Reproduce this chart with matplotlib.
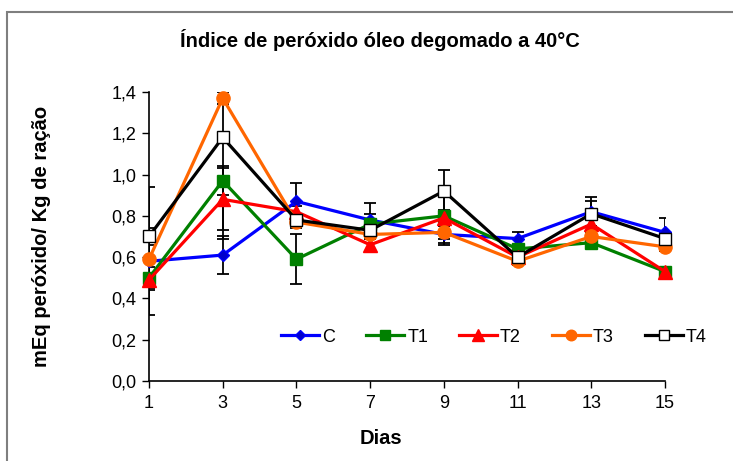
import numpy as np
import matplotlib
matplotlib.use('Agg')
import matplotlib.pyplot as plt
from matplotlib.patches import Rectangle

plt.rcParams['font.family'] = ['Liberation Sans', 'DejaVu Sans']

dias = [1, 3, 5, 7, 9, 11, 13, 15]
y_ticks = [0.0, 0.2, 0.4, 0.6, 0.8, 1.0, 1.2, 1.4]
y_labels = ['0,0', '0,2', '0,4', '0,6', '0,8', '1,0', '1,2', '1,4']

c_vals  = [0.58, 0.61, 0.87, 0.78, 0.71, 0.69, 0.82, 0.72]
t1_vals = [0.50, 0.97, 0.59, 0.76, 0.80, 0.64, 0.67, 0.53]
t2_vals = [0.49, 0.88, 0.82, 0.66, 0.79, 0.60, 0.76, 0.53]
t3_vals = [0.59, 1.37, 0.77, 0.71, 0.72, 0.58, 0.70, 0.65]
t4_vals = [0.70, 1.18, 0.78, 0.73, 0.92, 0.60, 0.81, 0.69]

c_err  = [0.12, 0.09, 0.09, 0.08, 0.05, 0.03, 0.07, 0.07]
t1_err = [0.05, 0.07, 0.12, 0.05, 0.03, 0.02, 0.02, 0.02]
t2_err = [0.17, 0.15, 0.03, 0.035, 0.12, 0.02, 0.03, 0.02]
t3_err = [0.15, 0.03, 0.03, 0.02, 0.03, 0.02, 0.02, 0.02]
t4_err = [0.24, 0.49, 0.03, 0.03, 0.10, 0.02, 0.06, 0.03]

series = [
    ('C', c_vals, c_err, '#0000FF', 'D', 6, '#0000CC'),
    ('T1', t1_vals, t1_err, '#008000', 's', 9, '#008000'),
    ('T2', t2_vals, t2_err, '#FF0000', '^', 10, '#FF0000'),
    ('T3', t3_vals, t3_err, '#FF6600', 'o', 9.5, '#FF6600'),
    ('T4', t4_vals, t4_err, '#000000', 's', 9, '#FFFFFF'),
]

fig = plt.figure(figsize=(7.33, 4.61), dpi=100)
ax = fig.add_axes((149/733, 80/461, 516/733, 289/461))

for i, (name, vals, err, col, mk, ms, fc) in enumerate(series):
    ax.errorbar(dias, vals, yerr=err, fmt='none', ecolor='black',
                elinewidth=1.3, capsize=4, capthick=1.3, zorder=2)
for i, (name, vals, err, col, mk, ms, fc) in enumerate(series):
    ax.plot(dias, vals, color=col, lw=2.3, marker=mk, markersize=ms,
            markerfacecolor=fc, markeredgecolor=col, markeredgewidth=1.0,
            label=name, zorder=3 + i, clip_on=False)

ax.set_xlim(1, 15)
ax.set_ylim(0, 1.4)
ax.set_xticks(dias)
ax.set_yticks(y_ticks)
ax.set_yticklabels(y_labels)
ax.tick_params(axis='both', direction='out', length=5, width=1, labelsize=13,
               colors='black')
ax.tick_params(axis='x', pad=5)
ax.tick_params(axis='y', pad=4)
for s in ['top', 'right']:
    ax.spines[s].set_visible(False)
for s in ['left', 'bottom']:
    ax.spines[s].set_linewidth(1.2)

ax.set_xlabel('Dias', fontsize=14.5, fontweight='bold')
ax.set_ylabel('mEq peróxido/ Kg de ração', fontsize=14.5, fontweight='bold')
ax.xaxis.set_label_coords(0.45, -0.165)
ax.yaxis.set_label_coords(-0.19, 0.5)
fig.text(380/733, 1 - 40/461, 'Índice de peróxido óleo degomado a 40°C',
         ha='center', va='center', fontsize=14.5, fontweight='bold')

fig.legend(loc='center', bbox_to_anchor=(494/733, 1 - 337/461), ncol=5,
           frameon=False, fontsize=13, handlelength=2.1, handletextpad=0.17,
           columnspacing=1.72, markerscale=0.8)

fig.patches.append(Rectangle((7/733, -0.1), 1.2, (461 - 12)/461 + 0.1,
                             transform=fig.transFigure, fill=False,
                             edgecolor='#7f7f7f', lw=1.5))

fig.savefig('out.png', dpi=100)
